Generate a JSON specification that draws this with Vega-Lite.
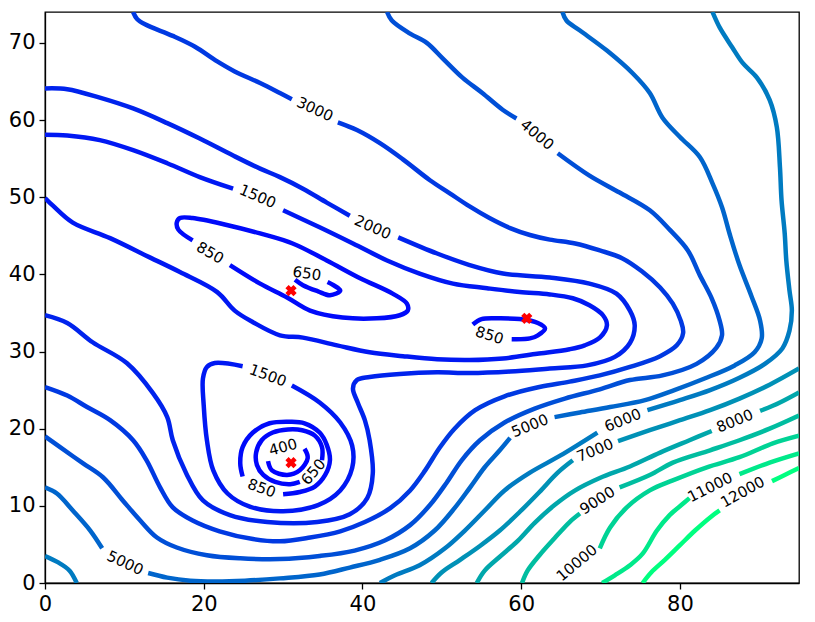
{
"$schema":"https://vega.github.io/schema/vega-lite/v6.json",
"width":754,"height":571,
"autosize":{"type":"none"},
"padding":{"left":45,"top":12,"right":16,"bottom":39},
"background":"white",
"config":{"view":{"stroke":"black","strokeWidth":1.3},"font":"DejaVu Sans"},
"datasets":{
"lines":[
{"c":"400","s":"400a","x":28.1,"y":15.8},{"c":"400","s":"400a","x":28.6,"y":14.6},{"c":"400","s":"400a","x":30.5,"y":14.0},{"c":"400","s":"400a","x":32.1,"y":14.6},{"c":"400","s":"400a","x":33.1,"y":16.2},{"c":"400","s":"400a","x":32.7,"y":17.4},
{"c":"650","s":"650a","x":31.5,"y":39.3},{"c":"650","s":"650a","x":32.5,"y":38.6},{"c":"650","s":"650a","x":34.4,"y":37.8},{"c":"650","s":"650a","x":35.9,"y":37.3},{"c":"650","s":"650a","x":37.2,"y":37.9},{"c":"650","s":"650a","x":35.6,"y":39.0},
{"c":"650","s":"650b","x":34.9,"y":15.9},{"c":"650","s":"650b","x":34.9,"y":17.6},{"c":"650","s":"650b","x":34.0,"y":19.1},{"c":"650","s":"650b","x":32.4,"y":19.8},{"c":"650","s":"650b","x":30.6,"y":19.9},{"c":"650","s":"650b","x":28.7,"y":19.5},{"c":"650","s":"650b","x":27.3,"y":18.5},{"c":"650","s":"650b","x":26.6,"y":16.9},{"c":"650","s":"650b","x":26.7,"y":15.3},{"c":"650","s":"650b","x":27.5,"y":14.0},{"c":"650","s":"650b","x":29.0,"y":13.1},{"c":"650","s":"650b","x":30.9,"y":12.8},{"c":"650","s":"650b","x":32.1,"y":13.1},
{"c":"850","s":"850a","x":23.3,"y":41.2},{"c":"850","s":"850a","x":27.1,"y":38.8},{"c":"850","s":"850a","x":30.5,"y":37.0},{"c":"850","s":"850a","x":33.4,"y":35.3},{"c":"850","s":"850a","x":37.5,"y":34.4},{"c":"850","s":"850a","x":41.8,"y":34.3},{"c":"850","s":"850a","x":44.7,"y":34.7},{"c":"850","s":"850a","x":45.7,"y":35.3},{"c":"850","s":"850a","x":45.6,"y":36.2},{"c":"850","s":"850a","x":43.8,"y":37.5},{"c":"850","s":"850a","x":39.7,"y":39.5},{"c":"850","s":"850a","x":35.5,"y":41.8},{"c":"850","s":"850a","x":31.2,"y":44.0},{"c":"850","s":"850a","x":27.1,"y":45.3},{"c":"850","s":"850a","x":22.9,"y":46.4},{"c":"850","s":"850a","x":18.6,"y":47.3},{"c":"850","s":"850a","x":17.0,"y":47.3},{"c":"850","s":"850a","x":16.6,"y":46.7},{"c":"850","s":"850a","x":16.8,"y":45.8},{"c":"850","s":"850a","x":18.6,"y":44.4},
{"c":"850","s":"850b","x":58.8,"y":31.6},{"c":"850","s":"850b","x":61.1,"y":31.7},{"c":"850","s":"850b","x":62.1,"y":32.1},{"c":"850","s":"850b","x":63.0,"y":33.0},{"c":"850","s":"850b","x":62.1,"y":33.7},{"c":"850","s":"850b","x":59.8,"y":34.2},{"c":"850","s":"850b","x":57.3,"y":34.3},{"c":"850","s":"850b","x":55.0,"y":34.2},{"c":"850","s":"850b","x":53.9,"y":33.5},
{"c":"850","s":"850c","x":30.0,"y":11.5},{"c":"850","s":"850c","x":32.1,"y":11.8},{"c":"850","s":"850c","x":34.0,"y":12.5},{"c":"850","s":"850c","x":35.3,"y":14.0},{"c":"850","s":"850c","x":35.9,"y":15.9},{"c":"850","s":"850c","x":35.5,"y":17.9},{"c":"850","s":"850c","x":34.6,"y":19.5},{"c":"850","s":"850c","x":32.7,"y":20.7},{"c":"850","s":"850c","x":30.9,"y":20.9},{"c":"850","s":"850c","x":28.3,"y":20.7},{"c":"850","s":"850c","x":26.2,"y":19.5},{"c":"850","s":"850c","x":24.9,"y":17.6},{"c":"850","s":"850c","x":24.6,"y":15.5},{"c":"850","s":"850c","x":24.9,"y":13.8},
{"c":"1500","s":"1500a","x":0,"y":58.1},{"c":"1500","s":"1500a","x":2.8,"y":58.0},{"c":"1500","s":"1500a","x":6.9,"y":57.4},{"c":"1500","s":"1500a","x":11.1,"y":56.1},{"c":"1500","s":"1500a","x":15.4,"y":54.4},{"c":"1500","s":"1500a","x":19.5,"y":52.6},{"c":"1500","s":"1500a","x":23.7,"y":51.1},
{"c":"1500","s":"1500b","x":30.0,"y":48.3},{"c":"1500","s":"1500b","x":34.6,"y":46.1},{"c":"1500","s":"1500b","x":38.8,"y":44.0},{"c":"1500","s":"1500b","x":43.1,"y":41.8},{"c":"1500","s":"1500b","x":47.2,"y":40.1},{"c":"1500","s":"1500b","x":51.4,"y":38.8},{"c":"1500","s":"1500b","x":55.7,"y":38.2},{"c":"1500","s":"1500b","x":59.8,"y":37.7},{"c":"1500","s":"1500b","x":63.6,"y":37.4},{"c":"1500","s":"1500b","x":66.5,"y":36.9},{"c":"1500","s":"1500b","x":68.6,"y":36.0},{"c":"1500","s":"1500b","x":70.3,"y":34.7},{"c":"1500","s":"1500b","x":70.8,"y":33.4},{"c":"1500","s":"1500b","x":69.9,"y":31.8},{"c":"1500","s":"1500b","x":68.0,"y":30.8},{"c":"1500","s":"1500b","x":66.1,"y":30.3},{"c":"1500","s":"1500b","x":62.0,"y":29.7},{"c":"1500","s":"1500b","x":57.7,"y":29.1},{"c":"1500","s":"1500b","x":53.5,"y":28.9},{"c":"1500","s":"1500b","x":49.4,"y":29.0},{"c":"1500","s":"1500b","x":45.1,"y":29.4},{"c":"1500","s":"1500b","x":40.9,"y":29.9},{"c":"1500","s":"1500b","x":36.8,"y":30.8},{"c":"1500","s":"1500b","x":32.5,"y":31.8},{"c":"1500","s":"1500b","x":29.6,"y":32.1},{"c":"1500","s":"1500b","x":26.2,"y":33.8},{"c":"1500","s":"1500b","x":23.9,"y":35.3},{"c":"1500","s":"1500b","x":21.7,"y":37.7},{"c":"1500","s":"1500b","x":17.0,"y":40.3},{"c":"1500","s":"1500b","x":13.2,"y":42.2},{"c":"1500","s":"1500b","x":8.2,"y":44.7},{"c":"1500","s":"1500b","x":3.5,"y":46.7},{"c":"1500","s":"1500b","x":1.0,"y":48.9},{"c":"1500","s":"1500b","x":0,"y":49.9},
{"c":"1500","s":"1500c","x":31.1,"y":25.6},{"c":"1500","s":"1500c","x":34.6,"y":23.4},{"c":"1500","s":"1500c","x":37.2,"y":20.8},{"c":"1500","s":"1500c","x":38.7,"y":17.8},{"c":"1500","s":"1500c","x":38.7,"y":14.9},{"c":"1500","s":"1500c","x":37.2,"y":12.0},{"c":"1500","s":"1500c","x":34.4,"y":10.1},{"c":"1500","s":"1500c","x":30.0,"y":9.3},{"c":"1500","s":"1500c","x":25.8,"y":9.9},{"c":"1500","s":"1500c","x":23.0,"y":11.6},{"c":"1500","s":"1500c","x":21.2,"y":14.6},{"c":"1500","s":"1500c","x":20.4,"y":18.5},{"c":"1500","s":"1500c","x":20.0,"y":23.0},{"c":"1500","s":"1500c","x":19.9,"y":26.5},{"c":"1500","s":"1500c","x":20.4,"y":28.0},{"c":"1500","s":"1500c","x":21.4,"y":28.5},{"c":"1500","s":"1500c","x":24.9,"y":28.1},
{"c":"2000","s":"2000a","x":0,"y":64.1},{"c":"2000","s":"2000a","x":2.8,"y":64.0},{"c":"2000","s":"2000a","x":6.9,"y":62.9},{"c":"2000","s":"2000a","x":11.1,"y":61.5},{"c":"2000","s":"2000a","x":15.4,"y":59.6},{"c":"2000","s":"2000a","x":19.5,"y":57.6},{"c":"2000","s":"2000a","x":23.7,"y":55.4},{"c":"2000","s":"2000a","x":27.1,"y":53.7},{"c":"2000","s":"2000a","x":29.6,"y":52.6},{"c":"2000","s":"2000a","x":32.5,"y":51.1},{"c":"2000","s":"2000a","x":35.5,"y":49.3},{"c":"2000","s":"2000a","x":38.4,"y":47.6},
{"c":"2000","s":"2000b","x":44.5,"y":44.8},{"c":"2000","s":"2000b","x":49.4,"y":42.7},{"c":"2000","s":"2000b","x":53.5,"y":41.2},{"c":"2000","s":"2000b","x":57.7,"y":40.1},{"c":"2000","s":"2000b","x":63.6,"y":39.6},{"c":"2000","s":"2000b","x":68.6,"y":38.8},{"c":"2000","s":"2000b","x":72.0,"y":37.5},{"c":"2000","s":"2000b","x":73.7,"y":35.3},{"c":"2000","s":"2000b","x":74.3,"y":33.4},{"c":"2000","s":"2000b","x":73.7,"y":31.1},{"c":"2000","s":"2000b","x":71.8,"y":29.3},{"c":"2000","s":"2000b","x":68.3,"y":28.2},{"c":"2000","s":"2000b","x":63.6,"y":27.8},{"c":"2000","s":"2000b","x":58.6,"y":27.4},{"c":"2000","s":"2000b","x":53.5,"y":27.2},{"c":"2000","s":"2000b","x":49.4,"y":27.3},{"c":"2000","s":"2000b","x":44.7,"y":27.1},{"c":"2000","s":"2000b","x":40.9,"y":26.7},{"c":"2000","s":"2000b","x":39.3,"y":26.3},{"c":"2000","s":"2000b","x":38.8,"y":25.2},{"c":"2000","s":"2000b","x":39.4,"y":23.4},{"c":"2000","s":"2000b","x":40.3,"y":21.1},{"c":"2000","s":"2000b","x":40.9,"y":18.5},{"c":"2000","s":"2000b","x":41.3,"y":14.2},{"c":"2000","s":"2000b","x":40.6,"y":11.0},{"c":"2000","s":"2000b","x":38.4,"y":8.9},{"c":"2000","s":"2000b","x":34.3,"y":7.9},{"c":"2000","s":"2000b","x":28.0,"y":7.9},{"c":"2000","s":"2000b","x":23.3,"y":8.8},{"c":"2000","s":"2000b","x":19.9,"y":10.7},{"c":"2000","s":"2000b","x":17.8,"y":14.2},{"c":"2000","s":"2000b","x":16.1,"y":18.5},{"c":"2000","s":"2000b","x":15.4,"y":21.5},{"c":"2000","s":"2000b","x":13.6,"y":24.6},{"c":"2000","s":"2000b","x":10.3,"y":28.5},{"c":"2000","s":"2000b","x":6.0,"y":31.2},{"c":"2000","s":"2000b","x":2.8,"y":33.7},{"c":"2000","s":"2000b","x":0,"y":34.7},
{"c":"3000","s":"3000a","x":11.1,"y":74},{"c":"3000","s":"3000a","x":11.6,"y":73.1},{"c":"3000","s":"3000a","x":12.6,"y":72.4},{"c":"3000","s":"3000a","x":16.1,"y":70.9},{"c":"3000","s":"3000a","x":18.9,"y":69.5},{"c":"3000","s":"3000a","x":21.7,"y":67.6},{"c":"3000","s":"3000a","x":23.9,"y":66.3},{"c":"3000","s":"3000a","x":27.1,"y":64.8},{"c":"3000","s":"3000a","x":29.6,"y":63.5},{"c":"3000","s":"3000a","x":31.1,"y":62.7},
{"c":"3000","s":"3000b","x":36.9,"y":59.7},{"c":"3000","s":"3000b","x":39.3,"y":58.7},{"c":"3000","s":"3000b","x":42.2,"y":57.0},{"c":"3000","s":"3000b","x":45.1,"y":54.9},{"c":"3000","s":"3000b","x":48.5,"y":52.2},{"c":"3000","s":"3000b","x":51.0,"y":50.5},{"c":"3000","s":"3000b","x":53.5,"y":48.8},{"c":"3000","s":"3000b","x":56.0,"y":47.3},{"c":"3000","s":"3000b","x":58.6,"y":46.0},{"c":"3000","s":"3000b","x":61.1,"y":45.1},{"c":"3000","s":"3000b","x":63.6,"y":44.5},{"c":"3000","s":"3000b","x":66.8,"y":44.0},{"c":"3000","s":"3000b","x":69.9,"y":43.1},{"c":"3000","s":"3000b","x":72.7,"y":42.1},{"c":"3000","s":"3000b","x":75.2,"y":40.4},{"c":"3000","s":"3000b","x":77.5,"y":38.3},{"c":"3000","s":"3000b","x":79.1,"y":36.2},{"c":"3000","s":"3000b","x":80.1,"y":34.0},{"c":"3000","s":"3000b","x":80.4,"y":32.4},{"c":"3000","s":"3000b","x":79.6,"y":30.8},{"c":"3000","s":"3000b","x":77.5,"y":29.4},{"c":"3000","s":"3000b","x":73.7,"y":28.0},{"c":"3000","s":"3000b","x":69.9,"y":26.9},{"c":"3000","s":"3000b","x":66.1,"y":26.1},{"c":"3000","s":"3000b","x":62.3,"y":25.4},{"c":"3000","s":"3000b","x":57.9,"y":24.2},{"c":"3000","s":"3000b","x":54.2,"y":22.4},{"c":"3000","s":"3000b","x":51.6,"y":20.0},{"c":"3000","s":"3000b","x":49.7,"y":17.5},{"c":"3000","s":"3000b","x":47.9,"y":14.6},{"c":"3000","s":"3000b","x":46.0,"y":12.0},{"c":"3000","s":"3000b","x":43.5,"y":9.7},{"c":"3000","s":"3000b","x":40.3,"y":7.9},{"c":"3000","s":"3000b","x":37.2,"y":6.7},{"c":"3000","s":"3000b","x":33.4,"y":5.9},{"c":"3000","s":"3000b","x":29.6,"y":5.4},{"c":"3000","s":"3000b","x":26.2,"y":5.7},{"c":"3000","s":"3000b","x":22.0,"y":6.7},{"c":"3000","s":"3000b","x":18.6,"y":8.1},{"c":"3000","s":"3000b","x":16.1,"y":9.8},{"c":"3000","s":"3000b","x":14.5,"y":12.4},{"c":"3000","s":"3000b","x":12.8,"y":15.9},{"c":"3000","s":"3000b","x":11.1,"y":18.5},{"c":"3000","s":"3000b","x":8.2,"y":21.1},{"c":"3000","s":"3000b","x":5.3,"y":22.8},{"c":"3000","s":"3000b","x":2.8,"y":24.3},{"c":"3000","s":"3000b","x":0,"y":25.4},
{"c":"4000","s":"4000a","x":43.1,"y":74},{"c":"4000","s":"4000a","x":43.7,"y":72.9},{"c":"4000","s":"4000a","x":46.0,"y":71.2},{"c":"4000","s":"4000a","x":48.1,"y":70.0},{"c":"4000","s":"4000a","x":50.1,"y":68.0},{"c":"4000","s":"4000a","x":52.6,"y":65.5},{"c":"4000","s":"4000a","x":55.1,"y":63.5},{"c":"4000","s":"4000a","x":57.7,"y":61.3},{"c":"4000","s":"4000a","x":59.4,"y":60.2},
{"c":"4000","s":"4000b","x":64.6,"y":55.7},{"c":"4000","s":"4000b","x":68.6,"y":52.8},{"c":"4000","s":"4000b","x":72.4,"y":50.6},{"c":"4000","s":"4000b","x":76.2,"y":48.3},{"c":"4000","s":"4000b","x":78.7,"y":45.8},{"c":"4000","s":"4000b","x":81.0,"y":43.1},{"c":"4000","s":"4000b","x":82.5,"y":39.9},{"c":"4000","s":"4000b","x":84.0,"y":36.9},{"c":"4000","s":"4000b","x":85.0,"y":34.0},{"c":"4000","s":"4000b","x":85.3,"y":32.1},{"c":"4000","s":"4000b","x":84.6,"y":30.5},{"c":"4000","s":"4000b","x":82.1,"y":28.4},{"c":"4000","s":"4000b","x":77.8,"y":26.9},{"c":"4000","s":"4000b","x":73.7,"y":26.3},{"c":"4000","s":"4000b","x":69.9,"y":25.1},{"c":"4000","s":"4000b","x":65.5,"y":23.9},{"c":"4000","s":"4000b","x":61.7,"y":22.6},{"c":"4000","s":"4000b","x":57.9,"y":20.8},{"c":"4000","s":"4000b","x":54.8,"y":18.5},{"c":"4000","s":"4000b","x":52.5,"y":15.9},{"c":"4000","s":"4000b","x":50.6,"y":13.0},{"c":"4000","s":"4000b","x":48.5,"y":10.1},{"c":"4000","s":"4000b","x":46.0,"y":7.5},{"c":"4000","s":"4000b","x":42.8,"y":5.5},{"c":"4000","s":"4000b","x":39.0,"y":4.2},{"c":"4000","s":"4000b","x":34.6,"y":3.5},{"c":"4000","s":"4000b","x":29.6,"y":3.1},{"c":"4000","s":"4000b","x":24.6,"y":3.2},{"c":"4000","s":"4000b","x":20.4,"y":3.6},{"c":"4000","s":"4000b","x":16.6,"y":4.6},{"c":"4000","s":"4000b","x":14.1,"y":5.9},{"c":"4000","s":"4000b","x":12.0,"y":8.1},{"c":"4000","s":"4000b","x":9.8,"y":10.7},{"c":"4000","s":"4000b","x":7.3,"y":13.7},{"c":"4000","s":"4000b","x":4.8,"y":15.5},{"c":"4000","s":"4000b","x":1.9,"y":17.6},{"c":"4000","s":"4000b","x":0,"y":19.0},
{"c":"5000","s":"5000a","x":0,"y":12.4},{"c":"5000","s":"5000a","x":1.5,"y":11.6},{"c":"5000","s":"5000a","x":3.5,"y":9.4},{"c":"5000","s":"5000a","x":5.7,"y":6.8},{"c":"5000","s":"5000a","x":7.2,"y":4.5},
{"c":"5000","s":"5000b","x":13.0,"y":1.3},{"c":"5000","s":"5000b","x":15.4,"y":0.7},{"c":"5000","s":"5000b","x":18.3,"y":0.3},{"c":"5000","s":"5000b","x":21.4,"y":0.2},{"c":"5000","s":"5000b","x":25.2,"y":0.3},{"c":"5000","s":"5000b","x":29.6,"y":0.6},{"c":"5000","s":"5000b","x":34.6,"y":1.1},{"c":"5000","s":"5000b","x":38.4,"y":2.0},{"c":"5000","s":"5000b","x":42.2,"y":3.0},{"c":"5000","s":"5000b","x":46.0,"y":4.5},{"c":"5000","s":"5000b","x":49.1,"y":6.8},{"c":"5000","s":"5000b","x":51.6,"y":9.7},{"c":"5000","s":"5000b","x":53.5,"y":12.3},{"c":"5000","s":"5000b","x":55.4,"y":15.0},{"c":"5000","s":"5000b","x":57.3,"y":17.2},{"c":"5000","s":"5000b","x":58.6,"y":18.8},
{"c":"5000","s":"5000c","x":64.2,"y":21.5},{"c":"5000","s":"5000c","x":67.4,"y":22.1},{"c":"5000","s":"5000c","x":71.2,"y":22.8},{"c":"5000","s":"5000c","x":75.6,"y":23.7},{"c":"5000","s":"5000c","x":79.3,"y":25.0},{"c":"5000","s":"5000c","x":83.1,"y":26.5},{"c":"5000","s":"5000c","x":86.9,"y":28.2},{"c":"5000","s":"5000c","x":89.4,"y":29.9},{"c":"5000","s":"5000c","x":90.3,"y":31.7},{"c":"5000","s":"5000c","x":90.1,"y":34.0},{"c":"5000","s":"5000c","x":89.0,"y":37.2},{"c":"5000","s":"5000c","x":87.5,"y":41.2},{"c":"5000","s":"5000c","x":86.3,"y":45.1},{"c":"5000","s":"5000c","x":85.3,"y":48.7},{"c":"5000","s":"5000c","x":84.1,"y":51.8},{"c":"5000","s":"5000c","x":82.5,"y":55.2},{"c":"5000","s":"5000c","x":80.0,"y":57.8},{"c":"5000","s":"5000c","x":77.8,"y":60.3},{"c":"5000","s":"5000c","x":76.2,"y":63.5},{"c":"5000","s":"5000c","x":74.1,"y":66.0},{"c":"5000","s":"5000c","x":70.8,"y":69.0},{"c":"5000","s":"5000c","x":67.4,"y":71.6},{"c":"5000","s":"5000c","x":65.7,"y":72.9},{"c":"5000","s":"5000c","x":65.2,"y":74},
{"c":"6000","s":"6000a","x":0,"y":3.5},{"c":"6000","s":"6000a","x":1.6,"y":2.7},{"c":"6000","s":"6000a","x":3.1,"y":1.6},{"c":"6000","s":"6000a","x":4.0,"y":0},
{"c":"6000","s":"6000b","x":42.2,"y":0},{"c":"6000","s":"6000b","x":44.1,"y":1.0},{"c":"6000","s":"6000b","x":47.2,"y":2.3},{"c":"6000","s":"6000b","x":50.4,"y":4.5},{"c":"6000","s":"6000b","x":52.9,"y":6.8},{"c":"6000","s":"6000b","x":55.4,"y":9.4},{"c":"6000","s":"6000b","x":57.9,"y":12.0},{"c":"6000","s":"6000b","x":61.1,"y":14.3},{"c":"6000","s":"6000b","x":64.9,"y":16.5},{"c":"6000","s":"6000b","x":69.6,"y":19.5},
{"c":"6000","s":"6000c","x":75.9,"y":22.4},{"c":"6000","s":"6000c","x":80.0,"y":23.7},{"c":"6000","s":"6000c","x":83.8,"y":25.0},{"c":"6000","s":"6000c","x":87.5,"y":26.6},{"c":"6000","s":"6000c","x":90.7,"y":28.4},{"c":"6000","s":"6000c","x":92.9,"y":30.4},{"c":"6000","s":"6000c","x":93.8,"y":32.7},{"c":"6000","s":"6000c","x":94.1,"y":35.3},{"c":"6000","s":"6000c","x":93.8,"y":37.9},{"c":"6000","s":"6000c","x":93.4,"y":41.8},{"c":"6000","s":"6000c","x":93.2,"y":45.3},{"c":"6000","s":"6000c","x":92.8,"y":49.6},{"c":"6000","s":"6000c","x":92.6,"y":53.9},{"c":"6000","s":"6000c","x":92.2,"y":59.1},{"c":"6000","s":"6000c","x":91.3,"y":62.6},{"c":"6000","s":"6000c","x":89.7,"y":65.5},{"c":"6000","s":"6000c","x":87.9,"y":67.4},{"c":"6000","s":"6000c","x":86.6,"y":69.4},{"c":"6000","s":"6000c","x":85.0,"y":72.0},{"c":"6000","s":"6000c","x":84.1,"y":74},
{"c":"7000","s":"7000a","x":48.7,"y":0},{"c":"7000","s":"7000a","x":50.0,"y":1.4},{"c":"7000","s":"7000a","x":52.3,"y":3.0},{"c":"7000","s":"7000a","x":54.8,"y":4.8},{"c":"7000","s":"7000a","x":57.3,"y":6.8},{"c":"7000","s":"7000a","x":59.8,"y":9.2},{"c":"7000","s":"7000a","x":62.3,"y":11.8},{"c":"7000","s":"7000a","x":64.6,"y":14.3},{"c":"7000","s":"7000a","x":66.5,"y":15.9},
{"c":"7000","s":"7000b","x":72.2,"y":18.4},{"c":"7000","s":"7000b","x":76.2,"y":19.8},{"c":"7000","s":"7000b","x":80.0,"y":21.1},{"c":"7000","s":"7000b","x":83.8,"y":22.4},{"c":"7000","s":"7000b","x":87.5,"y":23.9},{"c":"7000","s":"7000b","x":91.3,"y":25.7},{"c":"7000","s":"7000b","x":95,"y":27.8},
{"c":"8000","s":"8000a","x":54.4,"y":0},{"c":"8000","s":"8000a","x":55.4,"y":1.6},{"c":"8000","s":"8000a","x":57.3,"y":3.4},{"c":"8000","s":"8000a","x":59.6,"y":5.5},{"c":"8000","s":"8000a","x":61.7,"y":7.8},{"c":"8000","s":"8000a","x":64.2,"y":10.1},{"c":"8000","s":"8000a","x":66.8,"y":12.0},{"c":"8000","s":"8000a","x":69.9,"y":13.6},{"c":"8000","s":"8000a","x":73.7,"y":15.1},{"c":"8000","s":"8000a","x":77.5,"y":16.9},{"c":"8000","s":"8000a","x":81.2,"y":18.5},{"c":"8000","s":"8000a","x":84.0,"y":19.7},
{"c":"8000","s":"8000b","x":90.1,"y":22.3},{"c":"8000","s":"8000b","x":92.6,"y":23.4},{"c":"8000","s":"8000b","x":95,"y":24.7},
{"c":"9000","s":"9000a","x":60.1,"y":0},{"c":"9000","s":"9000a","x":60.8,"y":1.6},{"c":"9000","s":"9000a","x":62.3,"y":3.6},{"c":"9000","s":"9000a","x":64.2,"y":5.8},{"c":"9000","s":"9000a","x":66.1,"y":7.9},{"c":"9000","s":"9000a","x":67.4,"y":9.0},
{"c":"9000","s":"9000b","x":72.4,"y":12.4},{"c":"9000","s":"9000b","x":76.2,"y":14.0},{"c":"9000","s":"9000b","x":79.1,"y":15.6},{"c":"9000","s":"9000b","x":83.8,"y":17.2},{"c":"9000","s":"9000b","x":87.5,"y":18.5},{"c":"9000","s":"9000b","x":91.3,"y":20.0},{"c":"9000","s":"9000b","x":95,"y":21.7},
{"c":"10000","s":"10000a","x":69.9,"y":4.5},{"c":"10000","s":"10000a","x":71.2,"y":7.2},{"c":"10000","s":"10000a","x":73.3,"y":9.8},{"c":"10000","s":"10000a","x":76.2,"y":12.0},{"c":"10000","s":"10000a","x":79.1,"y":13.3},{"c":"10000","s":"10000a","x":83.4,"y":15.0},{"c":"10000","s":"10000a","x":87.5,"y":16.3},{"c":"10000","s":"10000a","x":91.7,"y":18.1},{"c":"10000","s":"10000a","x":95,"y":19.1},
{"c":"11000","s":"11000a","x":70.2,"y":0},{"c":"11000","s":"11000a","x":71.8,"y":1.0},{"c":"11000","s":"11000a","x":73.7,"y":2.3},{"c":"11000","s":"11000a","x":75.3,"y":3.8},{"c":"11000","s":"11000a","x":77.1,"y":6.8},{"c":"11000","s":"11000a","x":78.7,"y":8.8},{"c":"11000","s":"11000a","x":80.4,"y":10.3},{"c":"11000","s":"11000a","x":81.2,"y":11.0},
{"c":"11000","s":"11000b","x":87.5,"y":14.1},{"c":"11000","s":"11000b","x":91.3,"y":15.6},{"c":"11000","s":"11000b","x":95,"y":16.8},
{"c":"12000","s":"12000a","x":75.3,"y":0},{"c":"12000","s":"12000a","x":76.4,"y":1.4},{"c":"12000","s":"12000a","x":78.1,"y":3.0},{"c":"12000","s":"12000a","x":80.0,"y":4.9},{"c":"12000","s":"12000a","x":81.9,"y":6.8},{"c":"12000","s":"12000a","x":83.8,"y":8.5},{"c":"12000","s":"12000a","x":85.0,"y":9.4},
{"c":"12000","s":"12000b","x":91.6,"y":13.2},{"c":"12000","s":"12000b","x":93.2,"y":14.0},{"c":"12000","s":"12000b","x":95,"y":14.9}
],
"labels":[
{"t":"3000","x":34.0,"y":61.4,"a":25},{"t":"4000","x":62.0,"y":58.1,"a":40},{"t":"2000","x":41.3,"y":46.1,"a":24},{"t":"1500","x":26.8,"y":50.1,"a":23},
{"t":"850","x":20.8,"y":42.8,"a":30},{"t":"650","x":33.0,"y":40.1,"a":8},{"t":"850","x":56.0,"y":32.1,"a":18},{"t":"1500","x":28.1,"y":26.9,"a":20},
{"t":"400","x":30.0,"y":17.6,"a":-15},{"t":"650","x":33.8,"y":14.4,"a":-50},{"t":"850","x":27.3,"y":12.3,"a":20},
{"t":"5000","x":10.1,"y":2.6,"a":25},{"t":"5000","x":61.1,"y":20.4,"a":-22},{"t":"6000","x":72.8,"y":21.1,"a":-22},{"t":"7000","x":69.3,"y":17.2,"a":-22},
{"t":"8000","x":86.9,"y":21.0,"a":-22},{"t":"9000","x":69.6,"y":10.7,"a":-33},{"t":"10000","x":67.0,"y":2.6,"a":-40},{"t":"11000","x":83.8,"y":12.4,"a":-27},{"t":"12000","x":87.9,"y":11.8,"a":-29}
],
"mins":[{"x":31.0,"y":37.9},{"x":60.7,"y":34.3},{"x":31.0,"y":15.6}]
},
"encoding":{
"x":{"field":"x","type":"quantitative","scale":{"domain":[0,95],"nice":false,"zero":false},
"axis":{"values":[0,20,40,60,80],"grid":false,"title":null,"labelFontSize":21,"labelFont":"DejaVu Sans","labelColor":"black","tickColor":"black","domainColor":"black","tickSize":6,"tickWidth":1.3,"domainWidth":1.3,"labelPadding":4,"labelFlush":false}},
"y":{"field":"y","type":"quantitative","scale":{"domain":[0,74],"nice":false,"zero":false},
"axis":{"values":[0,10,20,30,40,50,60,70],"grid":false,"title":null,"labelFontSize":21,"labelFont":"DejaVu Sans","labelColor":"black","tickColor":"black","domainColor":"black","tickSize":6,"tickWidth":1.3,"domainWidth":1.3,"labelPadding":4,"labelFlush":false}}
},
"layer":[
{"data":{"name":"lines"},
"mark":{"type":"line","strokeWidth":4.5,"clip":true,"strokeJoin":"round","strokeCap":"butt","interpolate":"catmull-rom"},
"encoding":{
"color":{"field":"c","type":"nominal","legend":null,
"scale":{"domain":["400","650","850","1500","2000","3000","4000","5000","6000","7000","8000","9000","10000","11000","12000"],
"range":["#0000ff","#0006fc","#000afa","#0018f3","#0023ed","#0039e2","#004fd7","#0065cc","#007bc1","#0091b6","#00a7ab","#00bda0","#00d395","#00e98a","#00ff80"]}},
"detail":{"field":"s"},
"order":{"value":null}}},
{"data":{"name":"labels"},
"mark":{"type":"text","fontSize":15,"font":"DejaVu Sans","color":"black","align":"center","baseline":"middle"},
"encoding":{"text":{"field":"t"},"angle":{"field":"a","type":"quantitative","scale":null}}},
{"data":{"name":"mins"},
"mark":{"type":"point","shape":"cross","angle":45,"filled":true,"color":"red","size":130,"opacity":1}}
]
}
